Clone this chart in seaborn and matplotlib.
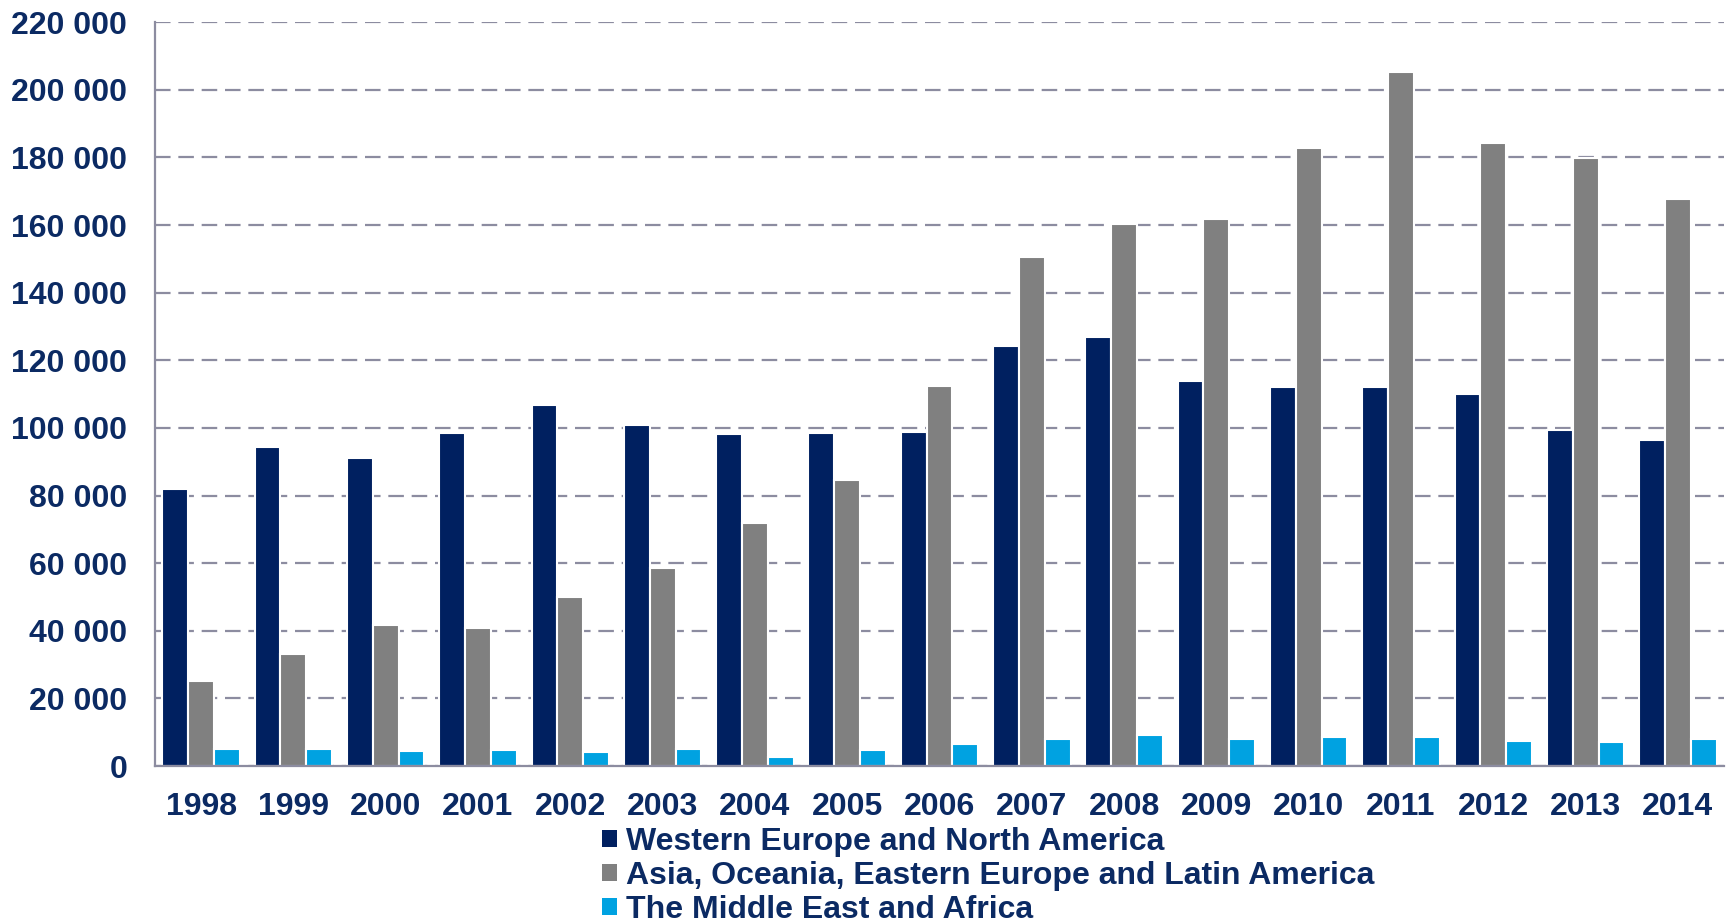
import matplotlib
matplotlib.use("Agg")
import matplotlib.pyplot as plt
import matplotlib.ticker as mticker
import numpy as np
import pandas as pd
import seaborn as sns

years = [str(y) for y in range(1998, 2015)]
western = [82000, 94500, 91000, 98500, 106800, 100800, 98200, 98500, 98800,
           124300, 126800, 113800, 112000, 112100, 110000, 99500, 96500]
asia = [25200, 33000, 41800, 40800, 50000, 58500, 72000, 84600, 112400,
        150600, 160400, 161800, 182900, 205400, 184300, 179700, 167600]
mideast = [5200, 5200, 4600, 4900, 4300, 5200, 2700, 4900, 6600,
           8100, 9100, 8100, 8700, 8700, 7500, 7100, 8000]
series_names = ["Western Europe and North America",
                "Asia, Oceania, Eastern Europe and Latin America",
                "The Middle East and Africa"]
colors = ["#002060", "#808080", "#00A2E1"]
yticks = list(range(0, 220001, 20000))

df = pd.DataFrame({
    "year": years * 3,
    "value": western + asia + mideast,
    "series": [series_names[0]] * len(years) + [series_names[1]] * len(years) + [series_names[2]] * len(years),
})

sns.set_style("white")
plt.rcParams['font.family'] = ['Liberation Sans', 'DejaVu Sans']
text_color = "#0B2A63"
grid_color = "#8C8CA0"
fs = 23

fig = plt.figure(figsize=(17.31, 9.23), dpi=100)
ax = fig.add_axes([0.0895, 0.170, 0.9065, 0.806])

sns.barplot(data=df, x="year", y="value", hue="series", palette=colors,
            width=0.84, edgecolor="white", linewidth=1.5, ax=ax, legend=False,
            saturation=1)

ax.set_ylim(0, 220000)
ax.set_xlim(-0.5, len(years) - 0.5)
ax.set_yticks(yticks)
ax.yaxis.set_major_formatter(mticker.FuncFormatter(lambda v, p: f"{int(v):,}".replace(",", " ")))
ax.yaxis.grid(True, linestyle=(0, (7, 3.5)), color=grid_color, linewidth=1.6)
ax.set_axisbelow(True)
ax.set_xlabel("")
ax.set_ylabel("")

for s in ["top", "right"]:
    ax.spines[s].set_visible(False)
for s in ["left", "bottom"]:
    ax.spines[s].set_color(grid_color)
    ax.spines[s].set_linewidth(1.6)

ax.set_xticks(np.arange(len(years)))
ax.set_xticklabels(years)
ax.set_xticks(np.arange(len(years) + 1) - 0.5, minor=True)
ax.tick_params(axis="x", which="major", length=0, pad=19, labelsize=fs, labelcolor=text_color)
ax.tick_params(axis="x", which="minor", length=8, width=1.6, color=grid_color, direction="out")
ax.tick_params(axis="y", which="major", length=8, width=1.6, color=grid_color, pad=12,
               labelsize=fs, labelcolor=text_color, direction="out")
for lab in ax.get_xticklabels() + ax.get_yticklabels():
    lab.set_fontweight("bold")

handles = [plt.Rectangle((0, 0), 1, 1, facecolor=c, edgecolor="none") for c in colors]
leg = fig.legend(handles, series_names, loc="center left", bbox_to_anchor=(0.348, 0.051),
                 frameon=False, handlelength=0.45, handleheight=0.45, handletextpad=0.3,
                 labelspacing=0.12, borderpad=0, borderaxespad=0,
                 prop={"size": fs, "weight": "bold"})
for t in leg.get_texts():
    t.set_color(text_color)

fig.savefig("out.png", dpi=100)
